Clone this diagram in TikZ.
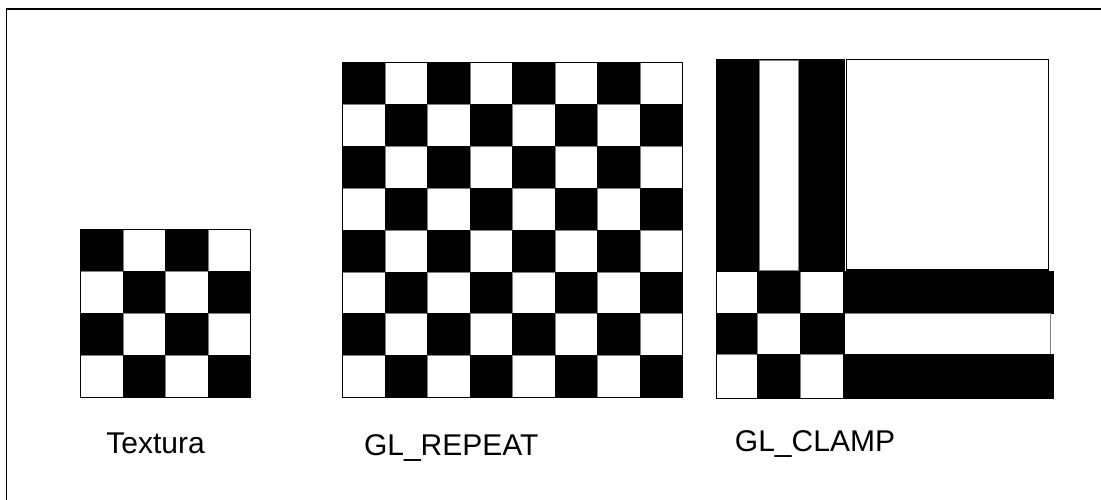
\documentclass[tikz,border=0pt]{standalone}
\usepackage{fontspec}
\setmainfont{Liberation Sans}

\begin{document}
\begin{tikzpicture}[x=1pt, y=-1pt,
    % --- styles ---
    cell_black/.style={fill=black, draw=black, line width=0.6pt},
    cell_white/.style={fill=white, draw=black!50, line width=0.6pt},
    outline/.style={draw=black, line width=1.1pt},
    label_text/.style={font=\fontsize{30}{36}\selectfont, anchor=base, inner sep=0pt}
]
    \useasboundingbox (0,0) rectangle (1101,500);

    % --- frame: only top and left edges are visible ---
    \coordinate (F_bl) at (6.7, 500);
    \coordinate (F_tl) at (6.7, 9);
    \coordinate (F_tr) at (1101, 9);
    \draw[line width=1.4pt] (F_bl) -- (F_tl) -- (F_tr);

    % =========================================
    % texture 4x4
    % =========================================
    \begin{scope}[shift={(80.7, 229.3)}]
        \foreach \i in {0,...,3}
            \foreach \j in {0,...,3} {
                \pgfmathtruncatemacro{\odd}{mod(\i+\j,2)}
                \ifnum\odd=0
                    \draw[cell_black] (\i*42.5, \j*42) rectangle ++(42.5, 42);
                \else
                    \draw[cell_white] (\i*42.5, \j*42) rectangle ++(42.5, 42);
                \fi
            }
        \draw[outline] (0,0) rectangle (170,168);
    \end{scope}

    % =========================================
    % GL_REPEAT 8x8
    % =========================================
    \begin{scope}[shift={(342.7, 62.7)}]
        \foreach \i in {0,...,7}
            \foreach \j in {0,...,7} {
                \pgfmathtruncatemacro{\odd}{mod(\i+\j,2)}
                \ifnum\odd=0
                    \draw[cell_black] (\i*42.45, \j*41.83) rectangle ++(42.45, 41.83);
                \else
                    \draw[cell_white] (\i*42.45, \j*41.83) rectangle ++(42.45, 41.83);
                \fi
            }
        \draw[outline] (0,0) rectangle (339.6,334.6);
    \end{scope}

    % =========================================
    % GL_CLAMP
    % =========================================
    % stretched columns (top left)
    \draw[cell_black] (716.7, 59) rectangle (844, 271.7);
    \draw[cell_white] (759.5, 60) rectangle (798.5, 270.5);

    % border texel corner (top right)
    \draw[outline, fill=white] (846.7, 59.3) rectangle (1048.3, 270);

    % stretched rows (bottom right)
    \draw[cell_black] (844, 271.7) rectangle (1053, 313);
    \draw[cell_white] (844, 313) rectangle (1050, 354);
    \draw[cell_black] (844, 354) rectangle (1053, 398.3);

    % 3x3 corner of the texture (bottom left)
    \foreach \xa/\xb [count=\i from 0] in {716.7/757, 757/800, 800/844}
        \foreach \ya/\yb [count=\j from 0] in {271.7/313, 313/354, 354/398.3} {
            \pgfmathtruncatemacro{\odd}{mod(\i+\j,2)}
            \ifnum\odd=1
                \draw[cell_black] (\xa, \ya) rectangle (\xb, \yb);
            \else
                \draw[cell_white] (\xa, \ya) rectangle (\xb, \yb);
            \fi
        }
    \draw[outline] (716.7, 271.7) rectangle (844, 398.3);
    \draw[outline] (716.7, 59) -- (716.7, 271.7);

    % --- labels ---
    \node[label_text] (lbl_texture) at (155.5, 453.3) {Textura};
    \node[label_text] (lbl_repeat)  at (451.3, 455)   {GL\_REPEAT};
    \node[label_text] (lbl_clamp)   at (815, 451.7)   {GL\_CLAMP};

\end{tikzpicture}
\end{document}
